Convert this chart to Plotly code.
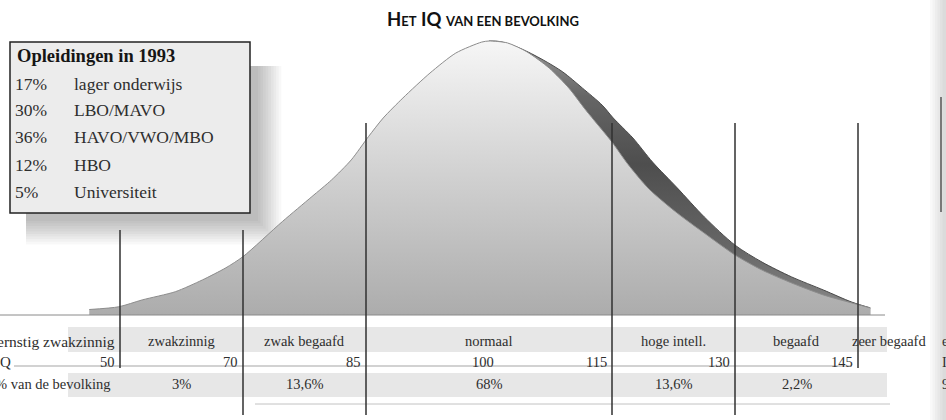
import plotly.graph_objects as go

# ---------------- data ----------------
iq_bounds = [50, 70, 85, 100, 115, 130, 145]
bands = ["ernstig zwakzinnig", "zwakzinnig", "zwak begaafd", "normaal",
         "hoge intell.", "begaafd", "zeer begaafd"]
band_pct = ["3%", "13,6%", "68%", "13,6%", "2,2%"]
edu_title = "Opleidingen in 1993"
edu_pct = ["17%", "30%", "36%", "12%", "5%"]
edu_labels = ["lager onderwijs", "LBO/MAVO", "HAVO/VWO/MBO", "HBO", "Universiteit"]

# bell curve: position in IQ-band units (0 = IQ 50 ... 6 = IQ 145), height (peak = 100)
curve_x = [-0.25, -0.01, 0.18, 0.45, 0.67, 0.86, 1.0, 1.32, 1.56, 1.72, 1.88, 2.02,
           2.14, 2.30, 2.52, 2.73, 2.94, 3.0, 3.15, 3.31, 3.49, 3.65, 3.79, 4.0,
           4.13, 4.3, 4.53, 4.75, 5.0, 5.22, 5.46, 5.72, 5.95, 6.1]
curve_h = [2.0, 3.0, 5.5, 8.5, 12.8, 17.2, 21.3, 34.1, 43.2, 49.3, 56.6, 65.1,
           71.9, 79.2, 88.3, 95.6, 99.6, 100, 99.3, 96.0, 90.1, 82.8, 74.6, 63.1,
           55.0, 46.0, 37.2, 29.9, 21.9, 16.4, 11.7, 7.3, 4.4, 2.6]
# darker "shadow" edge on the right flank
shade_x = [3.0, 3.09, 3.25, 3.44, 3.60, 3.76, 3.92, 4.01, 4.17, 4.33, 4.53, 4.75,
           5.0, 5.22, 5.46, 5.72, 5.95, 6.1]
shade_h = [100, 99.8, 97.4, 93.1, 88.7, 82.8, 76.6, 71.9, 64.6, 55.8, 46.4, 35.8,
           25.5, 19.3, 13.9, 9.1, 4.7, 2.6]

# ---------------- layout helpers ----------------
W, H = 946, 420
X0PX, UNIT = 120, 123.0          # pixel of band position 0, pixels per band unit
BASE, PEAK = 315, 41             # pixel of curve base and top
YU = (BASE - PEAK) / 100.0

def xp(p):
    return p / W

def yp(p):
    return 1 - p / H

SERIF = "Liberation Serif, Times New Roman, serif"
TXT = "#2e2e2e"

fig = go.Figure()

fig.add_trace(go.Scatter(
    x=shade_x, y=shade_h, mode="lines",
    line=dict(color="#4a4a4a", width=1, shape="spline", smoothing=0.8),
    fill="tozeroy",
    fillgradient=dict(type="vertical",
                      colorscale=[[0, "#8a8a8a"], [0.25, "#666666"], [0.55, "#4e4e4e"],
                                  [0.8, "#666666"], [1, "#9a9a9a"]]),
    hoverinfo="skip", showlegend=False))

fig.add_trace(go.Scatter(
    x=curve_x, y=curve_h, mode="lines",
    line=dict(color="#8c8c8c", width=1, shape="spline", smoothing=0.7),
    fill="tozeroy",
    fillgradient=dict(type="vertical",
                      colorscale=[[0, "#acacac"], [0.5, "#d0d0d0"], [1, "#f6f6f6"]]),
    hoverinfo="skip", showlegend=False))

shapes = []
annotations = []

def ann(x, y, text, xref="paper", size=14.5, xanchor="center", xshift=0,
        family=SERIF, color=TXT):
    annotations.append(dict(x=x, y=y, xref=xref, yref="paper", text=text,
                            xanchor=xanchor, yanchor="middle", xshift=xshift,
                            showarrow=False, font=dict(family=family, size=size, color=color)))

# base line of the curve
shapes.append(dict(type="line", xref="paper", yref="y", x0=0, x1=xp(885), y0=0, y1=0,
                   line=dict(color="#8a8a8a", width=1)))

# table background strips
for top, bot in [(327, 352), (373, 397)]:
    shapes.append(dict(type="rect", xref="paper", yref="paper", x0=xp(68), x1=xp(887),
                       y0=yp(bot), y1=yp(top), fillcolor="#e7e7e7", line=dict(width=0),
                       layer="below"))
# faint rules in the IQ row and below
shapes.append(dict(type="line", xref="paper", yref="paper", x0=xp(14), x1=xp(852),
                   y0=yp(366), y1=yp(366), line=dict(color="#a5a5a5", width=1)))
shapes.append(dict(type="line", xref="paper", yref="paper", x0=xp(255), x1=xp(890),
                   y0=yp(404), y1=yp(404), line=dict(color="#c2c2c2", width=1)))

# vertical band boundaries
for i, b in enumerate(iq_bounds):
    if b == 100:
        continue
    top = 230 if i < 2 else 123
    bot = 368 if i in (0, len(iq_bounds) - 1) else 415
    shapes.append(dict(type="line", xref="x", yref="paper", x0=i, x1=i,
                       y0=yp(bot), y1=yp(top), line=dict(color="#303030", width=1.5)))

# band names row
ann(0, yp(341), bands[0], xref="x", xanchor="right", xshift=-3, size=15.5)
name_pos = [0.5, 1.5, 3.0, 4.5, 5.5, 6.25]
for cx, t in zip(name_pos, bands[1:]):
    ann(cx, yp(341), t, xref="x")

# IQ row
ann(xp(-7), yp(362), "IQ", xanchor="left", size=15)
for i, b in enumerate(iq_bounds):
    if b == 100:
        ann(i, yp(362), str(b), xref="x", xshift=-6)
    else:
        ann(i, yp(362), str(b), xref="x", xanchor="right", xshift=-3)

# percentage row
ann(xp(-7), yp(384), "% van de bevolking", xanchor="left")
pct_pos = [0.5, 1.5, 3.0, 4.5, 5.5]
for cx, t in zip(pct_pos, band_pct):
    ann(cx, yp(384), t, xref="x")

# title
ann(xp(483), yp(19),
    "<b>H<span style='font-size:13px'>ET</span> IQ "
    "<span style='font-size:13px'>VAN EEN BEVOLKING</span></b>",
    family="Lato, Open Sans, sans-serif", size=18.5, color="#111111")

# education box: soft shadow, box, texts
for k in range(10):
    o = 8 + k * 2.6
    shapes.append(dict(type="rect", xref="paper", yref="paper",
                       x0=xp(26), x1=xp(250 + o), y0=yp(213 + o), y1=yp(66),
                       fillcolor="rgba(0,0,0,0.026)", line=dict(width=0), layer="below"))
shapes.append(dict(type="rect", xref="paper", yref="paper", x0=xp(10), x1=xp(250),
                   y0=yp(213), y1=yp(42), fillcolor="#ececec",
                   line=dict(color="#222222", width=1.5)))
ann(xp(15), yp(56), "<b>" + edu_title + "</b>", xanchor="left", size=18.5, color="#151515")
row_y = [84, 110, 137, 165, 192]
for ry, p, lab in zip(row_y, edu_pct, edu_labels):
    ann(xp(13), yp(ry), p, xanchor="left", size=17.5)
    ann(xp(72), yp(ry), lab, xanchor="left", size=17.5)

# page gutter at the right edge
for k in range(6):
    shapes.append(dict(type="rect", xref="paper", yref="paper", x0=xp(930 + k * 2.5), x1=1,
                       y0=0, y1=1, fillcolor="rgba(0,0,0,0.025)", line=dict(width=0),
                       layer="below"))
shapes.append(dict(type="line", xref="paper", yref="paper", x0=xp(941), x1=xp(941),
                   y0=yp(212), y1=yp(97), line=dict(color="#333333", width=1.2)))
for ry, ch in zip([341, 362, 384], ["e", "I", "9"]):
    ann(xp(940), yp(ry), ch, xanchor="left", size=14)

fig.update_layout(
    width=W, height=H, autosize=False,
    margin=dict(l=0, r=0, t=0, b=0),
    paper_bgcolor="white", plot_bgcolor="rgba(0,0,0,0)",
    xaxis=dict(range=[-X0PX / UNIT, (W - X0PX) / UNIT], visible=False, fixedrange=True),
    yaxis=dict(range=[-(H - BASE) / YU, BASE / YU], visible=False, fixedrange=True),
    shapes=shapes, annotations=annotations, showlegend=False,
)

fig.write_html("out.html", config={"displayModeBar": False},
               post_script="document.body.style.margin='0';document.body.style.overflow='hidden';")
